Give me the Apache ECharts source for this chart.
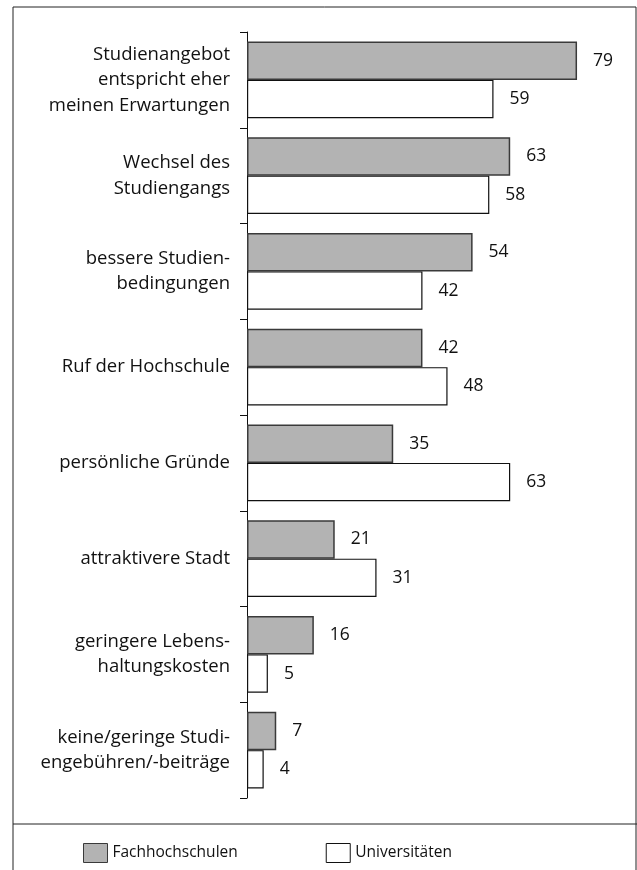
<!DOCTYPE html>
<html>
<head>
<meta charset="utf-8">
<script src="https://cdn.jsdelivr.net/npm/echarts@6/dist/echarts.min.js"></script>
<style>
  html, body { margin: 0; padding: 0; background: #fff; }
  #chart { width: 637px; height: 870px; }
</style>
</head>
<body>
<div id="chart"></div>
<script>
// categories, top to bottom
var categories = [
  "Studienangebot\nentspricht eher\nmeinen Erwartungen",
  "Wechsel des\nStudiengangs",
  "bessere Studien-\nbedingungen",
  "Ruf der Hochschule",
  "persönliche Gründe",
  "attraktivere Stadt",
  "geringere Lebens-\nhaltungskosten",
  "keine/geringe Studi-\nengebühren/-beiträge"
];
var fachhochschulen = [79, 63, 54, 42, 35, 21, 16, 7];
var universitaeten = [59, 58, 42, 48, 63, 31, 5, 4];

var font = "'Open Sans', sans-serif";

var chart = echarts.init(document.getElementById("chart"));
var option = {
  animation: false,
  textStyle: { fontFamily: font },
  graphic: [
    {
      type: "rect",
      shape: { x: 13, y: 7, width: 623, height: 880 },
      style: { fill: "none", stroke: "#222", lineWidth: 1 }
    },
    {
      type: "line",
      shape: { x1: 13, y1: 824, x2: 637, y2: 824 },
      style: { stroke: "#222", lineWidth: 1 }
    }
  ],
  legend: {
    left: 83,
    top: 843,
    padding: 0,
    icon: "rect",
    itemWidth: 24,
    itemHeight: 19,
    itemGap: 88,
    itemStyle: { borderWidth: 1 },
    textStyle: { fontSize: 15.5, color: "#111", fontFamily: font },
    data: ["Fachhochschulen", "Universitäten"]
  },
  grid: { left: 247, top: 32, width: 376, height: 766 },
  xAxis: {
    type: "value",
    min: 0,
    max: 90,
    show: false
  },
  yAxis: {
    type: "category",
    inverse: true,
    data: categories,
    axisLine: { show: true, lineStyle: { color: "#111", width: 1 } },
    axisTick: { show: true, length: 7, lineStyle: { color: "#111", width: 1 } },
    axisLabel: {
      margin: 17,
      fontSize: 18.5,
      lineHeight: 25.5,
      color: "#111",
      fontFamily: font
    }
  },
  series: [
    {
      name: "Fachhochschulen",
      type: "bar",
      data: fachhochschulen,
      barGap: "0%",
      barCategoryGap: "20%",
      itemStyle: { color: "#b3b3b3", borderColor: "#3a3a3a", borderWidth: 1.5 },
      label: { show: true, position: "right", distance: 16, fontSize: 17.5, color: "#111", fontFamily: font }
    },
    {
      name: "Universitäten",
      type: "bar",
      data: universitaeten,
      barGap: "0%",
      barCategoryGap: "20%",
      itemStyle: { color: "#ffffff", borderColor: "#111", borderWidth: 1.2 },
      label: { show: true, position: "right", distance: 16, fontSize: 17.5, color: "#111", fontFamily: font }
    }
  ]
};
chart.setOption(option);
</script>
</body>
</html>
